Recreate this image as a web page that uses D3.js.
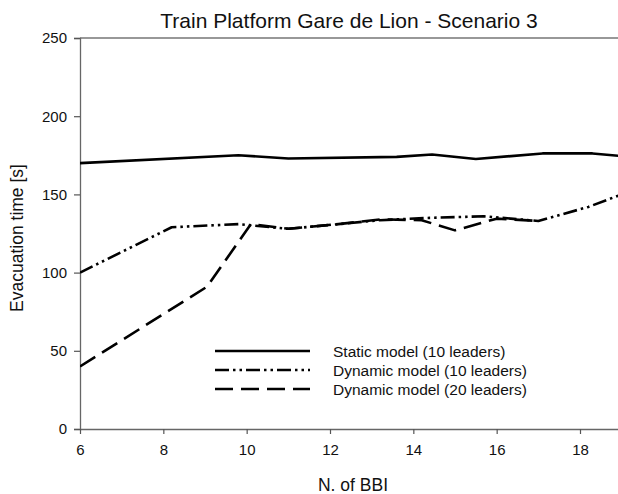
<!DOCTYPE html>
<html>
<head>
<meta charset="utf-8">
<script src="https://cdn.jsdelivr.net/npm/d3@7/dist/d3.min.js"></script>
<style>
  html, body { margin: 0; padding: 0; background: #fff; }
  svg { display: block; font-family: "Liberation Sans", Arial, sans-serif; }
</style>
</head>
<body>
<svg id="chart" width="618" height="494"></svg>
<script>
// ---- data ----
const chartTitle = "Train Platform Gare de Lion - Scenario 3";
const xTitle = "N. of BBI";
const yTitle = "Evacuation time [s]";
const xTicks = [6, 8, 10, 12, 14, 16, 18];
const yTicks = [0, 50, 100, 150, 200, 250];

const staticX = [6, 9.8, 11, 13.6, 14.45, 15.5, 17.1, 18.3, 19];
const staticY = [170, 175, 173, 174, 175.5, 172.6, 176.2, 176.2, 174.5];

const dyn10X = [6, 8.2, 9.8, 11, 12.4, 13.2, 14.4, 15.7, 17, 18.2, 19];
const dyn10Y = [100, 129, 131, 128, 131.5, 133.5, 135, 136, 133, 142, 150];

const dyn20X = [6, 9.05, 10.1, 11, 12.2, 13.2, 14.2, 15, 16, 17];
const dyn20Y = [40, 91, 131, 128, 131, 134, 133.5, 127, 134.5, 133];

const seriesNames = ["Static model (10 leaders)", "Dynamic model (10 leaders)", "Dynamic model (20 leaders)"];

// ---- drawing ----
(function () {
const svg = d3.select("#chart");
const pL = 80, pT = 38, pB = 429;
const x = d3.scaleLinear().domain([6, 18]).range([pL, 580]);
const y = d3.scaleLinear().domain([0, 250]).range([pB, pT]);
const pR = x(19);

const series = [
  { name: seriesNames[0], xs: staticX, ys: staticY, dash: null },
  { name: seriesNames[1], xs: dyn10X, ys: dyn10Y, dash: "14,4,2.5,4,2.5,4" },
  { name: seriesNames[2], xs: dyn20X, ys: dyn20Y, dash: "18,8" }
];

svg.append("defs").append("clipPath").attr("id", "clip")
  .append("rect").attr("x", pL).attr("y", pT - 5).attr("width", pR - pL).attr("height", pB - pT + 5);

// top frame line
svg.append("line").attr("x1", pL).attr("x2", pR).attr("y1", pT).attr("y2", pT)
  .attr("stroke", "#333").attr("stroke-width", 1.2);

// y axis
const yAxis = svg.append("g").attr("transform", `translate(${pL},0)`)
  .call(d3.axisLeft(y).tickValues(yTicks).tickSize(6).tickPadding(7));
// x axis
const xAxis = svg.append("g").attr("transform", `translate(0,${pB})`)
  .call(d3.axisBottom(x).tickValues(xTicks).tickSize(5).tickPadding(10));
xAxis.select(".domain").attr("d", `M${pL},0.5H${pR}`);

[yAxis, xAxis].forEach(g => {
  g.select(".domain").attr("stroke", "#666").attr("stroke-width", 1.3);
  g.selectAll(".tick line").attr("stroke", "#555").attr("stroke-width", 1.2);
  g.selectAll(".tick text").attr("fill", "#111").style("font-size", "15px")
    .style("font-family", '"Liberation Sans", Arial, sans-serif');
});

// lines
const plot = svg.append("g").attr("clip-path", "url(#clip)");
const lineGen = d3.line().x(d => x(d[0])).y(d => y(d[1]));
series.forEach(s => {
  const pts = s.xs.map((v, i) => [v, s.ys[i]]);
  plot.append("path").datum(pts).attr("d", lineGen)
    .attr("fill", "none").attr("stroke", "#000").attr("stroke-width", 2.6)
    .attr("stroke-linejoin", "round")
    .attr("stroke-dasharray", s.dash);
});

// title
svg.append("text").attr("x", 349).attr("y", 28).attr("text-anchor", "middle")
  .style("font-size", "21px").attr("fill", "#111").text(chartTitle);
// axis titles
svg.append("text").attr("x", 353).attr("y", 491).attr("text-anchor", "middle")
  .style("font-size", "17.5px").attr("fill", "#111").text(xTitle);
svg.append("text").attr("transform", "translate(23,238) rotate(-90)").attr("text-anchor", "middle")
  .style("font-size", "17.5px").attr("fill", "#111").text(yTitle);

// legend
const legend = svg.append("g");
series.forEach((s, i) => {
  const ly = 351 + i * 19;
  legend.append("line").attr("x1", 215).attr("x2", 310).attr("y1", ly).attr("y2", ly)
    .attr("stroke", "#000").attr("stroke-width", 2.6).attr("stroke-dasharray", s.dash);
  legend.append("text").attr("x", 333).attr("y", ly + 5.5).style("font-size", "15.5px")
    .attr("fill", "#111").text(s.name);
});
})();
</script>
</body>
</html>
